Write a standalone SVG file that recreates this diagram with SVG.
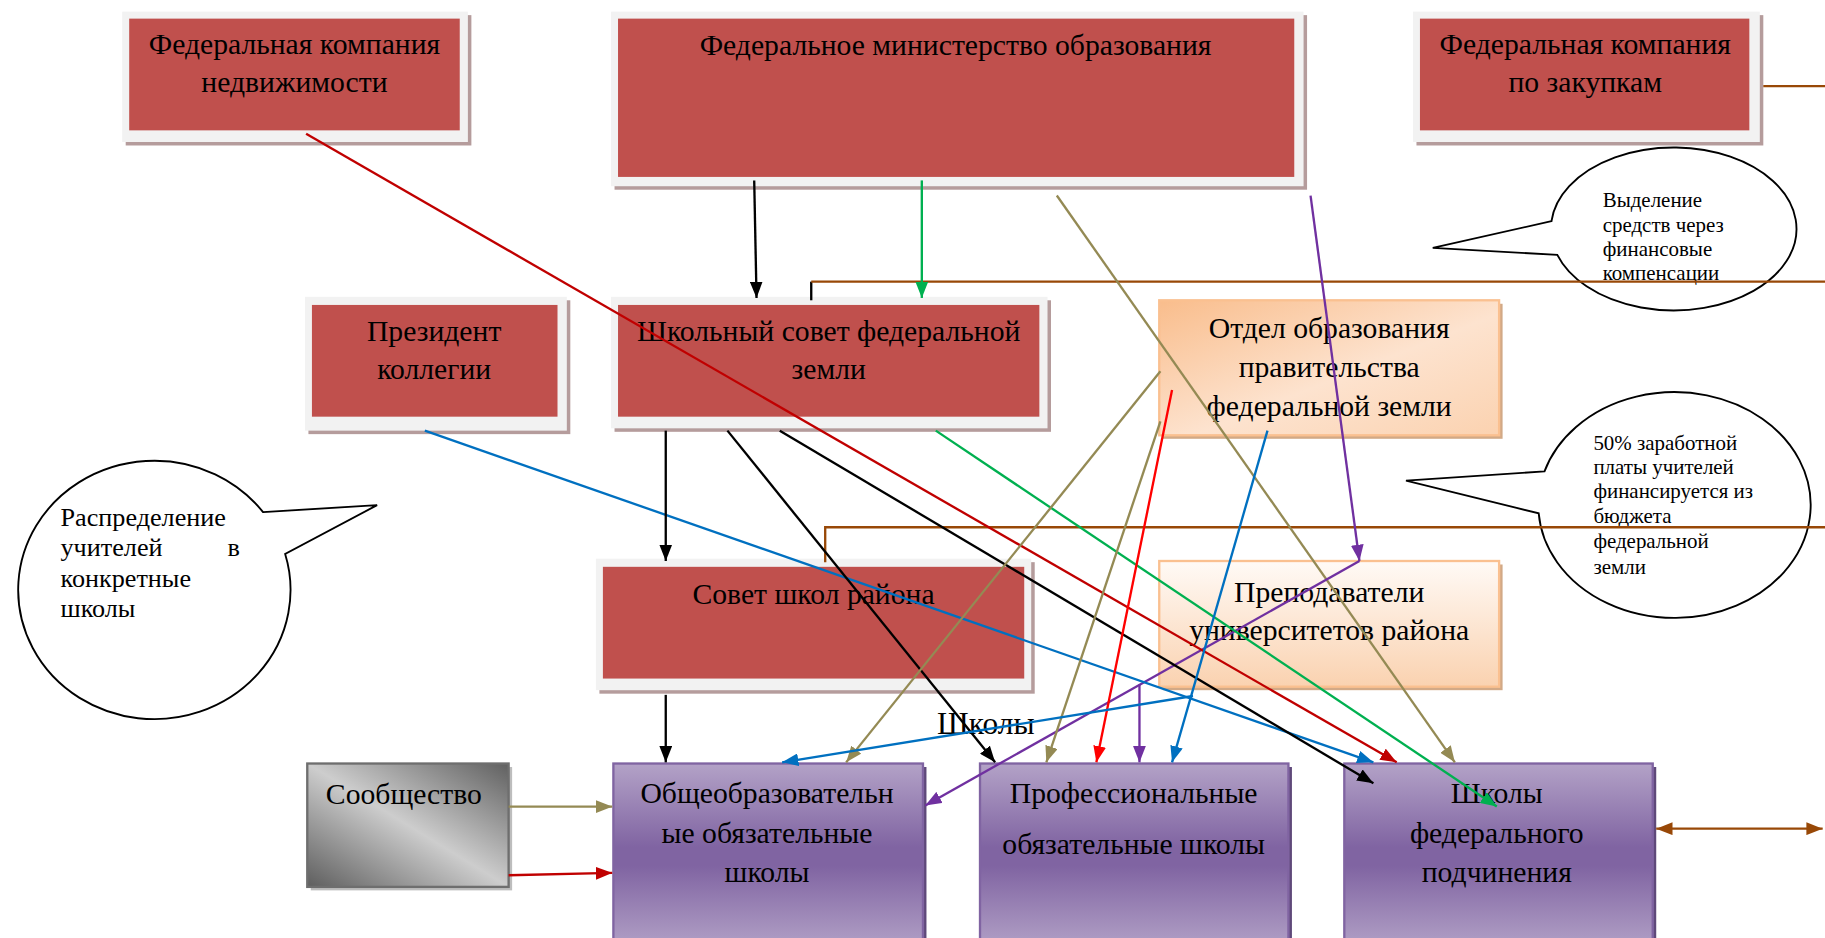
<svg xmlns="http://www.w3.org/2000/svg" width="1825" height="938" viewBox="0 0 1825 938">
<style>
text{font-family:"Liberation Serif","Times New Roman",serif;fill:#000}
.nt{font-size:25.5px;text-anchor:middle}
.ct{font-size:18px}
.lt{font-size:22.5px}
.shadow{fill:#b59c9c}
.frame{fill:#f2f2f2}
.red{fill:#c0504d}
.purple{fill:url(#gPurple);stroke:#8064a2;stroke-width:2}
.pshadow{fill:#5f497a}
.bubble{fill:#fff;stroke:#000;stroke-width:1.6}
.c{fill:none;stroke-width:2}
</style>
<defs>
<linearGradient id="gPurple" x1="0" y1="0" x2="0" y2="1">
<stop offset="0" stop-color="#b3a2c7"/><stop offset="0.45" stop-color="#8064a2"/><stop offset="0.55" stop-color="#8064a2"/><stop offset="1" stop-color="#b3a2c7"/>
</linearGradient>
<linearGradient id="gOrange1" x1="0" y1="0" x2="1" y2="1">
<stop offset="0" stop-color="#f9bd8c"/><stop offset="0.55" stop-color="#fde3cf"/><stop offset="1" stop-color="#fbd2b0"/>
</linearGradient>
<linearGradient id="gOrange2" x1="0" y1="0" x2="0" y2="1">
<stop offset="0" stop-color="#fffaf6"/><stop offset="1" stop-color="#fad2b0"/>
</linearGradient>
<linearGradient id="gGray" x1="0" y1="1" x2="1" y2="0">
<stop offset="0" stop-color="#5e5e5e"/><stop offset="0.5" stop-color="#cdcdcd"/><stop offset="1" stop-color="#606060"/>
</linearGradient>
<marker id="aK" viewBox="0 0 14 11" refX="14" refY="5.5" markerWidth="14" markerHeight="11" markerUnits="userSpaceOnUse" orient="auto"><path d="M0,0L14,5.5L0,11z" fill="#000"/></marker>
<marker id="aG" viewBox="0 0 14 11" refX="14" refY="5.5" markerWidth="14" markerHeight="11" markerUnits="userSpaceOnUse" orient="auto"><path d="M0,0L14,5.5L0,11z" fill="#00b050"/></marker>
<marker id="aO" viewBox="0 0 14 11" refX="14" refY="5.5" markerWidth="14" markerHeight="11" markerUnits="userSpaceOnUse" orient="auto"><path d="M0,0L14,5.5L0,11z" fill="#948a54"/></marker>
<marker id="aP" viewBox="0 0 14 11" refX="14" refY="5.5" markerWidth="14" markerHeight="11" markerUnits="userSpaceOnUse" orient="auto"><path d="M0,0L14,5.5L0,11z" fill="#7030a0"/></marker>
<marker id="aD" viewBox="0 0 14 11" refX="14" refY="5.5" markerWidth="14" markerHeight="11" markerUnits="userSpaceOnUse" orient="auto"><path d="M0,0L14,5.5L0,11z" fill="#c00000"/></marker>
<marker id="aB" viewBox="0 0 14 11" refX="14" refY="5.5" markerWidth="14" markerHeight="11" markerUnits="userSpaceOnUse" orient="auto"><path d="M0,0L14,5.5L0,11z" fill="#0070c0"/></marker>
<marker id="aR" viewBox="0 0 14 11" refX="14" refY="5.5" markerWidth="14" markerHeight="11" markerUnits="userSpaceOnUse" orient="auto"><path d="M0,0L14,5.5L0,11z" fill="#ff0000"/></marker>
<marker id="aW" viewBox="0 0 14 11" refX="14" refY="5.5" markerWidth="14" markerHeight="11" markerUnits="userSpaceOnUse" orient="auto-start-reverse"><path d="M0,0L14,5.5L0,11z" fill="#984807"/></marker>
</defs>
<rect width="1825" height="938" fill="#fff"/>
<g transform="scale(1.16390)">
<g id="fed-realty">
<rect class="shadow" x="108" y="13" width="297" height="112"/>
<rect class="frame" x="105" y="10" width="297" height="112"/>
<rect class="red" x="111" y="16" width="284" height="96"/>
<text class="nt" x="253" y="46">Федеральная компания</text>
<text class="nt" x="253" y="79">недвижимости</text>
</g>
<g id="fed-ministry">
<rect class="shadow" x="528" y="13" width="595" height="150"/>
<rect class="frame" x="525" y="10" width="595" height="150"/>
<rect class="red" x="531" y="16" width="581" height="136"/>
<text class="nt" x="821" y="47">Федеральное министерство образования</text>
</g>
<g id="fed-purchase">
<rect class="shadow" x="1217" y="13" width="298" height="112"/>
<rect class="frame" x="1214" y="10" width="298" height="112"/>
<rect class="red" x="1220" y="16" width="283" height="96"/>
<text class="nt" x="1362" y="46">Федеральная компания</text>
<text class="nt" x="1362" y="79">по закупкам</text>
</g>
<g id="president">
<rect class="shadow" x="265" y="258" width="225" height="115"/>
<rect class="frame" x="262" y="255" width="225" height="115"/>
<rect class="red" x="268" y="262" width="211" height="96"/>
<text class="nt" x="373" y="293">Президент</text>
<text class="nt" x="373" y="326">коллегии</text>
</g>
<g id="school-council">
<rect class="shadow" x="528" y="258" width="375" height="113"/>
<rect class="frame" x="525" y="255" width="375" height="113"/>
<rect class="red" x="531" y="262" width="362" height="96"/>
<text class="nt" x="712" y="293">Школьный совет федеральной</text>
<text class="nt" x="712" y="326">земли</text>
</g>
<g id="edu-dept">
<rect x="999" y="261" width="292" height="116" fill="#d2a986"/>
<rect x="996" y="258" width="292" height="116" fill="url(#gOrange1)" stroke="#fac090" stroke-width="2"/>
<text class="nt" x="1142" y="290">Отдел образования</text>
<text class="nt" x="1142" y="324">правительства</text>
<text class="nt" x="1142" y="357">федеральной земли</text>
</g>
<g id="district-council">
<rect class="shadow" x="515" y="483" width="374" height="113"/>
<rect class="frame" x="512" y="480" width="374" height="113"/>
<rect class="red" x="518" y="487" width="362" height="96"/>
<text class="nt" x="699" y="519">Совет школ района</text>
</g>
<g id="teachers">
<rect x="999" y="485" width="292" height="108" fill="#d2a986"/>
<rect x="996" y="482" width="292" height="108" fill="url(#gOrange2)" stroke="#fac090" stroke-width="2"/>
<text class="nt" x="1142" y="517">Преподаватели</text>
<text class="nt" x="1142" y="550">университетов района</text>
</g>
<g id="community">
<rect x="267" y="659" width="173" height="106" fill="#bdbdbd"/>
<rect x="264" y="656" width="173" height="106" fill="url(#gGray)" stroke="#6e6e6e" stroke-width="2"/>
<text class="nt" x="347" y="691">Сообщество</text>
</g>
<g id="general-schools">
<rect class="pshadow" x="530" y="659" width="266" height="160"/>
<rect class="purple" x="527" y="656" width="266" height="160"/>
<text class="nt" x="659" y="690">Общеобразовательн</text>
<text class="nt" x="659" y="724">ые обязательные</text>
<text class="nt" x="659" y="758">школы</text>
</g>
<g id="prof-schools">
<rect class="pshadow" x="845" y="659" width="265" height="160"/>
<rect class="purple" x="842" y="656" width="265" height="160"/>
<text class="nt" x="974" y="690">Профессиональные</text>
<text class="nt" x="974" y="734">обязательные школы</text>
</g>
<g id="federal-schools">
<rect class="pshadow" x="1158" y="659" width="265" height="160"/>
<rect class="purple" x="1155" y="656" width="265" height="160"/>
<text class="nt" x="1286" y="690">Школы</text>
<text class="nt" x="1286" y="724">федерального</text>
<text class="nt" x="1286" y="758">подчинения</text>
</g>
<g id="callout-funds">
<path class="bubble" d="M1333 190L1231 213L1338 219A105.5 70 0 1 0 1333 190Z"/>
<text class="ct" x="1377" y="178">Выделение</text>
<text class="ct" x="1377" y="199">средств через</text>
<text class="ct" x="1377" y="220">финансовые</text>
<text class="ct" x="1377" y="241">компенсации</text>
</g>
<g id="callout-salary">
<path class="bubble" d="M1327 405L1208 413L1322 441A117 97 0 1 0 1327 405Z"/>
<text class="ct" x="1369" y="387">50% заработной</text>
<text class="ct" x="1369" y="407">платы учителей</text>
<text class="ct" x="1369" y="428">финансируется из</text>
<text class="ct" x="1369" y="449">бюджета</text>
<text class="ct" x="1369" y="471">федеральной</text>
<text class="ct" x="1369" y="493">земли</text>
</g>
<g id="callout-teachers">
<path class="bubble" d="M226 440L324 434L245 476A117 111 0 1 1 226 440Z"/>
<text class="lt" x="52" y="452">Распределение</text>
<text class="lt" x="52" y="478">учителей</text>
<text class="lt" x="206" y="478" text-anchor="end">в</text>
<text class="lt" x="52" y="504">конкретные</text>
<text class="lt" x="52" y="530">школы</text>
</g>
<g id="label-schools">
<text x="847" y="631" font-size="27" text-anchor="middle">Школы</text>
</g>
<g id="cut-text">
<text x="20" y="822" font-size="24">П</text>
</g>
<g id="connectors">
<path class="c" d="M697 258V242" stroke="#000"/>
<path class="c" d="M697 242H1570" stroke="#984807"/>
<path class="c" d="M709 483V453H1570" stroke="#984807"/>
<path class="c" d="M1515 74H1570" stroke="#984807"/>
<path class="c" d="M1423 712H1566" stroke="#984807" marker-start="url(#aW)" marker-end="url(#aW)"/>
<path class="c" d="M648 155L650 256" stroke="#000" marker-end="url(#aK)"/>
<path class="c" d="M792 155L792 256" stroke="#00b050" marker-end="url(#aG)"/>
<path class="c" d="M908 168L1250 655" stroke="#948a54" marker-end="url(#aO)"/>
<path class="c" d="M1126 168L1168 482" stroke="#7030a0" marker-end="url(#aP)"/>
<path class="c" d="M1168 482L795 692" stroke="#7030a0" marker-end="url(#aP)"/>
<path class="c" d="M979 588L979 655" stroke="#7030a0" marker-end="url(#aP)"/>
<path class="c" d="M263 115L1200 655" stroke="#c00000" marker-end="url(#aD)"/>
<path class="c" d="M365 370L1180 655" stroke="#0070c0" marker-end="url(#aB)"/>
<path class="c" d="M625 370L855 655" stroke="#000" marker-end="url(#aK)"/>
<path class="c" d="M670 370L1180 673" stroke="#000" marker-end="url(#aK)"/>
<path class="c" d="M804 370L1286 693" stroke="#00b050" marker-end="url(#aG)"/>
<path class="c" d="M572 370L572 482" stroke="#000" marker-end="url(#aK)"/>
<path class="c" d="M572 597L572 655" stroke="#000" marker-end="url(#aK)"/>
<path class="c" d="M997 319L727 655" stroke="#948a54" marker-end="url(#aO)"/>
<path class="c" d="M997 362L899 655" stroke="#948a54" marker-end="url(#aO)"/>
<path class="c" d="M1007 335L942 655" stroke="#ff0000" marker-end="url(#aR)"/>
<path class="c" d="M1089 370L1007 655" stroke="#0070c0" marker-end="url(#aB)"/>
<path class="c" d="M1025 598L672 655" stroke="#0070c0" marker-end="url(#aB)"/>
<path class="c" d="M437 693L526 693" stroke="#948a54" marker-end="url(#aO)"/>
<path class="c" d="M437 752L526 750" stroke="#c00000" marker-end="url(#aD)"/>
</g>
</g>
</svg>
